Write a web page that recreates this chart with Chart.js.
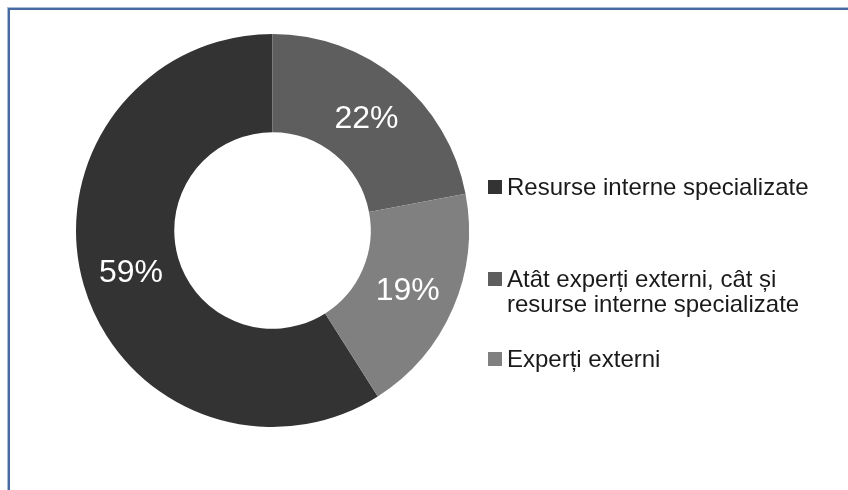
<!DOCTYPE html>
<html>
<head>
<meta charset="utf-8">
<script src="https://cdn.jsdelivr.net/npm/chart.js@4/dist/chart.umd.min.js"></script>
<style>
  html, body { margin: 0; padding: 0; background: #fff; }
  #wrap { position: relative; width: 848px; height: 490px; overflow: hidden; }
  #frame { position: absolute; left: 8px; top: 8px; width: 900px; height: 600px;
           border-top: 2px solid #466aa2; border-left: 2px solid #466aa2;
           box-shadow: -1px -1px 0 #a8bcd9; }
  canvas { position: absolute; left: 0; top: 0; }
</style>
</head>
<body>
<div id="wrap">
  <div id="frame"></div>
  <canvas id="c" width="848" height="490"></canvas>
</div>
<script>
const categories = [
  "Resurse interne specializate",
  ["Atât experți externi, cât și", "resurse interne specializate"],
  "Experți externi"
];
const values = [59, 22, 19];
const sliceColors = ["#333333", "#5e5e5e", "#808080"];

const labelPlugin = {
  id: 'sliceLabels',
  afterDatasetsDraw(chart) {
    const ctx = chart.ctx;
    const meta = chart.getDatasetMeta(0);
    const total = values.reduce((a, b) => a + b, 0);
    ctx.save();
    ctx.fillStyle = '#ffffff';
    ctx.font = '32px "Liberation Sans", Arial, sans-serif';
    ctx.textAlign = 'center';
    ctx.textBaseline = 'middle';
    meta.data.forEach((arc, i) => {
      const p = arc.tooltipPosition();
      ctx.fillText(Math.round(values[i] / total * 100) + '%', p.x, p.y + 2);
    });
    ctx.restore();
  }
};

const legendPlugin = {
  id: 'sideLegend',
  afterDraw(chart, args, opts) {
    const ctx = chart.ctx;
    ctx.save();
    ctx.font = '24px "Liberation Sans", Arial, sans-serif';
    ctx.textBaseline = 'alphabetic';
    ctx.textAlign = 'left';
    categories.forEach((lab, i) => {
      const base = opts.baselines[i];
      ctx.fillStyle = sliceColors[i];
      ctx.fillRect(opts.boxX, base - 15, 14, 14);
      ctx.fillStyle = '#1a1a1a';
      const lines = Array.isArray(lab) ? lab : [lab];
      lines.forEach((ln, j) => ctx.fillText(ln, opts.textX, base + j * opts.lineGap));
    });
    ctx.restore();
  }
};

new Chart(document.getElementById('c'), {
  type: 'doughnut',
  data: {
    labels: categories,
    datasets: [{
      data: values,
      backgroundColor: sliceColors,
      borderWidth: 0,
      hoverOffset: 0
    }]
  },
  options: {
    responsive: false,
    animation: false,
    rotation: 147.6,
    cutout: '50%',
    layout: { padding: { left: 76, right: 379, top: 34, bottom: 63 } },
    plugins: {
      legend: { display: false },
      tooltip: { enabled: false },
      sideLegend: { boxX: 488, textX: 507, baselines: [195, 287, 367], lineGap: 25 }
    }
  },
  plugins: [labelPlugin, legendPlugin]
});
</script>
</body>
</html>
